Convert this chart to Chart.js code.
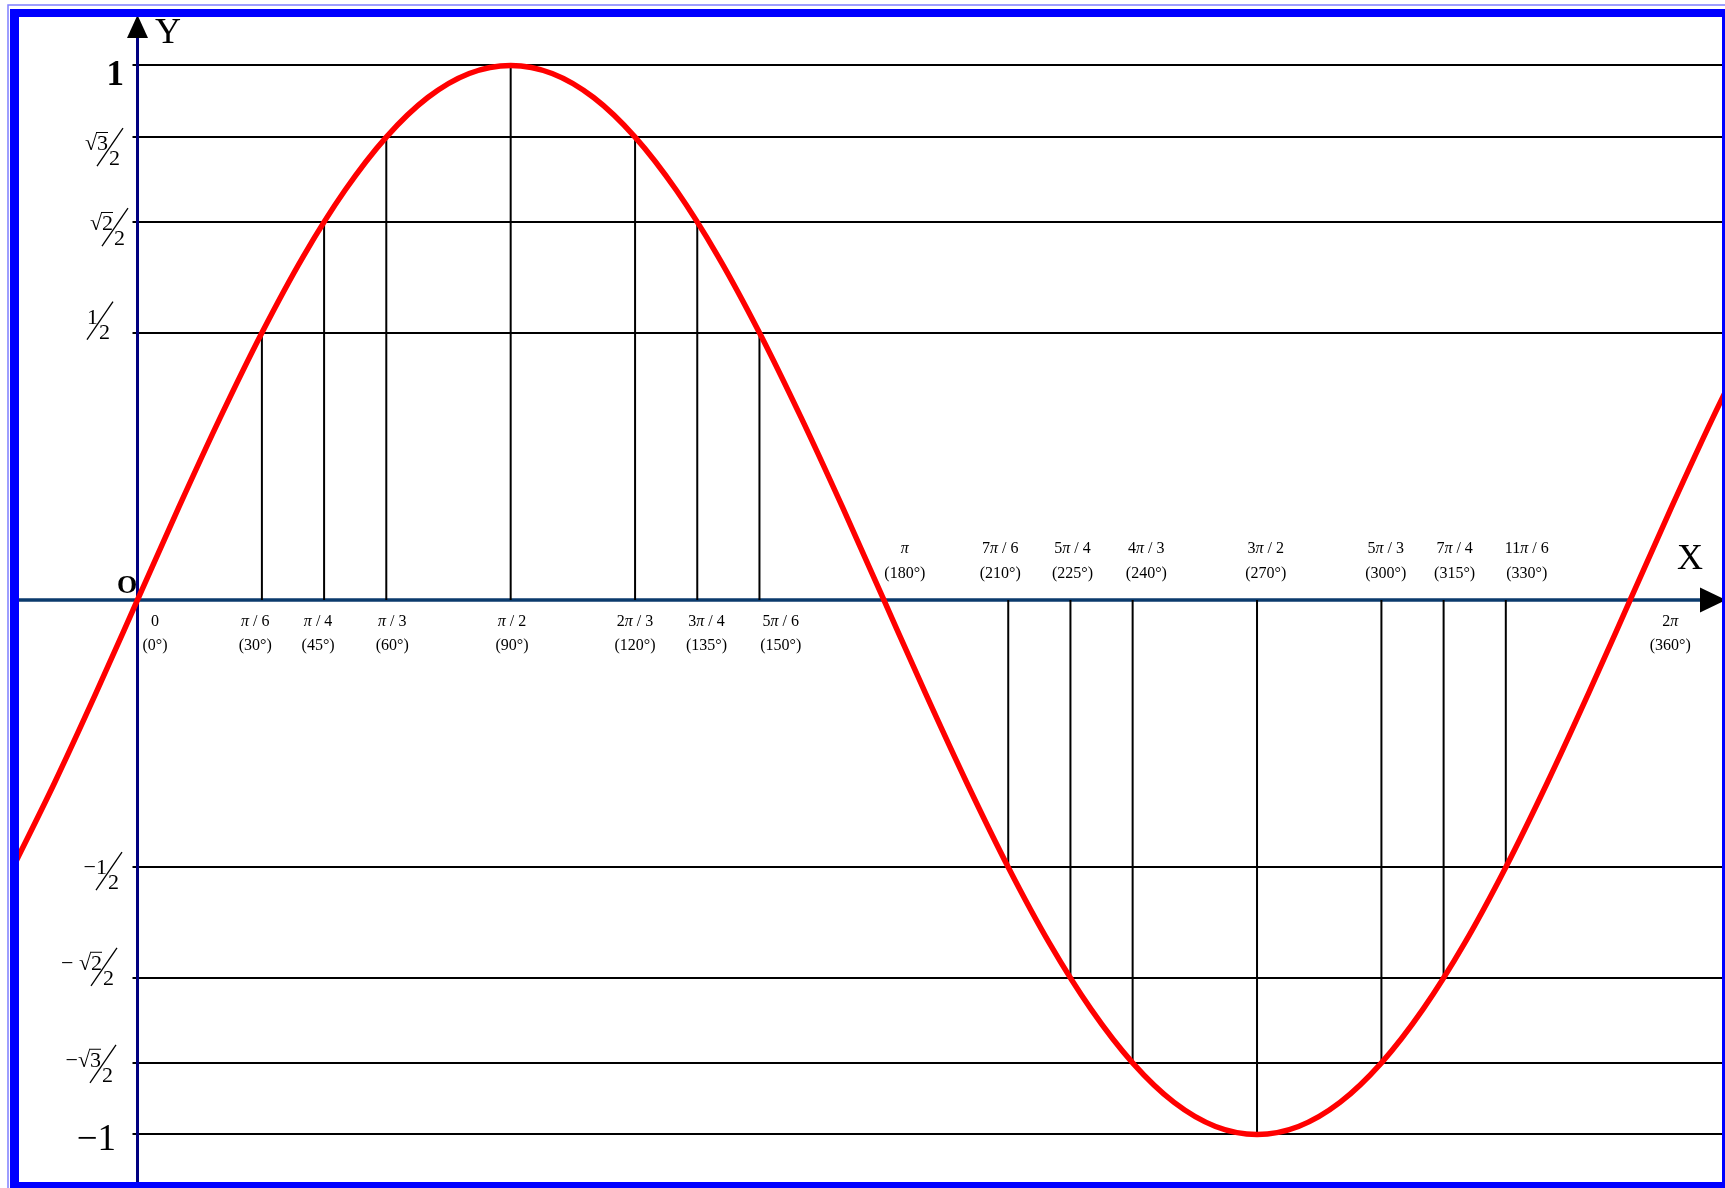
<!DOCTYPE html>
<html><head><meta charset="utf-8">
<script src="https://cdn.jsdelivr.net/npm/chart.js@4/dist/chart.umd.min.js"></script>
<style>html,body{margin:0;padding:0;background:#fff;overflow:hidden}canvas{display:block}</style>
</head><body>
<canvas id="c" width="1725" height="1188"></canvas>
<script>
// ---- data ----
const curveAngles = [-30,-20,-10,0,10,20,30,40,50,60,70,80,90,100,110,120,130,140,150,160,170,180,190,200,210,220,230,240,250,260,270,280,290,300,310,320,330,340,350,360,370,380,390];
const curveValues = [-0.5,-0.342,-0.174,0,0.174,0.342,0.5,0.643,0.766,0.866,0.94,0.985,1,0.985,0.94,0.866,0.766,0.643,0.5,0.342,0.174,0,-0.174,-0.342,-0.5,-0.643,-0.766,-0.866,-0.94,-0.985,-1,-0.985,-0.94,-0.866,-0.766,-0.643,-0.5,-0.342,-0.174,0,0.174,0.342,0.5];
const dropAngles = [30,45,60,90,120,135,150,210,225,240,270,300,315,330];
const dropValues = [0.5,0.707,0.866,1,0.866,0.707,0.5,-0.5,-0.707,-0.866,-1,-0.866,-0.707,-0.5];
const yTickValues = [1,0.866,0.707,0.5,-0.5,-0.707,-0.866,-1];
const yTickLabels = ['1','√3/2','√2/2','1/2','−1/2','− √2/2','−√3/2','−1'];
const xTickAngles = [0,30,45,60,90,120,135,150,180,210,225,240,270,300,315,330,360];
const xTickNames = ['0','π / 6','π / 4','π / 3','π / 2','2π / 3','3π / 4','5π / 6','π','7π / 6','5π / 4','4π / 3','3π / 2','5π / 3','7π / 4','11π / 6','2π'];
const xTickDegrees = ['(0°)','(30°)','(45°)','(60°)','(90°)','(120°)','(135°)','(150°)','(180°)','(210°)','(225°)','(240°)','(270°)','(300°)','(315°)','(330°)','(360°)'];
const axisTitles = {x:'X', y:'Y', origin:'O'};

// ---- styles / layout nudges ----
const xLabelNudge = [17.5,-6.7,-6,6,1.3,0,9.3,21.3,21,-8,2,13.7,8.7,4.3,11,21,40];
const yFracGeom = { // [slash top x, dy of slash top from the line]
  '√3/2':[123,-9], '√2/2':[128,-14], '1/2':[113,-31], '−1/2':[122,-15], '− √2/2':[117,-30], '−√3/2':[116,-18]
};
const SERIF = '"Liberation Serif", "Times New Roman", serif';

function drawRuns(ctx, text, cx, baseline, size){
  const parts = [];
  let buf = '';
  for (const ch of text){
    if (ch === 'π'){ if (buf) parts.push({t:buf,i:false}); buf=''; parts.push({t:'π',i:true}); }
    else buf += ch;
  }
  if (buf) parts.push({t:buf,i:false});
  let total = 0;
  parts.forEach(p=>{ ctx.font = (p.i?'italic ':'') + size + 'px ' + SERIF; p.w = ctx.measureText(p.t).width; total += p.w; });
  let x = cx - total/2;
  ctx.textAlign = 'left';
  parts.forEach(p=>{ ctx.font = (p.i?'italic ':'') + size + 'px ' + SERIF; ctx.fillText(p.t, x, baseline); x += p.w; });
}

function drawRadicalText(ctx, text, xRight, baseline, size){
  ctx.font = size + 'px ' + SERIF;
  ctx.textAlign = 'left';
  const w = ctx.measureText(text).width;
  const x0 = xRight - w;
  ctx.fillText(text, x0, baseline);
  const k = text.indexOf('√');
  if (k >= 0){
    const pre = ctx.measureText(text.slice(0, k+1)).width;
    const x1 = x0 + pre - 1;
    ctx.beginPath();
    ctx.lineWidth = 1;
    ctx.moveTo(x1, baseline - size*0.80);
    ctx.lineTo(x0 + w, baseline - size*0.80);
    ctx.stroke();
  }
}

const sinePlugin = {
  id:'sineDecor',
  beforeDraw(chart){
    const ctx = chart.ctx;
    ctx.save(); ctx.fillStyle='#fff'; ctx.fillRect(0,0,chart.width,chart.height); ctx.restore();
  },
  beforeDatasetsDraw(chart){
    const ctx = chart.ctx, xs = chart.scales.x, ys = chart.scales.y, a = chart.chartArea;
    const x0 = xs.getPixelForValue(0), y0 = ys.getPixelForValue(0);
    ctx.save();
    ctx.strokeStyle = '#000'; ctx.lineWidth = 2;
    yTickValues.forEach(v=>{
      const y = Math.round(ys.getPixelForValue(v));
      ctx.beginPath(); ctx.moveTo(x0 - 5, y); ctx.lineTo(a.right, y); ctx.stroke();
    });
    ctx.strokeStyle = '#000080'; ctx.lineWidth = 3;
    ctx.beginPath(); ctx.moveTo(x0, 36); ctx.lineTo(x0, a.bottom); ctx.stroke();
    ctx.fillStyle = '#000';
    ctx.beginPath(); ctx.moveTo(x0, 15); ctx.lineTo(x0 - 10.5, 38); ctx.lineTo(x0 + 10.5, 38); ctx.closePath(); ctx.fill();
    ctx.strokeStyle = '#0b3a6c'; ctx.lineWidth = 3.5;
    ctx.beginPath(); ctx.moveTo(a.left, y0); ctx.lineTo(1702, y0); ctx.stroke();
    ctx.fillStyle = '#000';
    ctx.beginPath(); ctx.moveTo(1726, y0); ctx.lineTo(1700, y0 - 12.5); ctx.lineTo(1700, y0 + 12.5); ctx.closePath(); ctx.fill();
    ctx.restore();
  },
  afterDatasetsDraw(chart){
    const ctx = chart.ctx, xs = chart.scales.x, ys = chart.scales.y;
    const y0 = ys.getPixelForValue(0);
    ctx.save();
    ctx.fillStyle = '#000'; ctx.strokeStyle = '#000'; ctx.textBaseline = 'alphabetic';
    xTickAngles.forEach((ang,i)=>{
      const cx = xs.getPixelForValue(ang) + xLabelNudge[i];
      const above = ang >= 180 && ang < 360;
      const b1 = above ? y0 - 47 : y0 + 26;
      const b2 = above ? y0 - 22 : y0 + 50;
      drawRuns(ctx, xTickNames[i], cx, b1, 16);
      drawRuns(ctx, xTickDegrees[i], cx, b2, 16);
    });
    yTickValues.forEach((v,i)=>{
      const lab = yTickLabels[i];
      const y = ys.getPixelForValue(v);
      if (lab === '1'){
        ctx.font = 'bold 35px ' + SERIF; ctx.textAlign = 'right';
        ctx.fillText('1', 124, y + 20);
      } else if (lab === '−1'){
        ctx.font = '37px ' + SERIF; ctx.textAlign = 'right';
        ctx.fillText('−1', 116, y + 16);
      } else {
        const [num, den] = lab.split('/');
        const g = yFracGeom[lab];
        const xr = g[0], yt = y + g[1];
        ctx.lineWidth = 1.3;
        ctx.beginPath(); ctx.moveTo(xr, yt); ctx.lineTo(xr - 26, yt + 38); ctx.stroke();
        drawRadicalText(ctx, num, xr - 15, yt + 22, 22);
        ctx.font = '22px ' + SERIF; ctx.textAlign = 'left';
        ctx.fillText(den, xr - 14, yt + 37);
      }
    });
    ctx.textAlign = 'left';
    ctx.font = '36px ' + SERIF; ctx.fillText(axisTitles.y, 155, 43);
    ctx.font = '36px ' + SERIF; ctx.fillText(axisTitles.x, 1677, 569);
    ctx.font = 'bold 26px ' + SERIF; ctx.fillText(axisTitles.origin, 117, 593);
    ctx.restore();
  },
  afterDraw(chart){
    const ctx = chart.ctx, W = chart.width, H = chart.height;
    ctx.save();
    ctx.fillStyle = '#0000ff';
    ctx.fillRect(10, 9, W - 10, 8);
    ctx.fillRect(10, 9, 9, H - 9);
    ctx.fillRect(1722, 9, W - 1722, H-9);
    ctx.fillRect(10, 1182, W - 10, H - 1182);
    ctx.strokeStyle = '#7f7fff'; ctx.lineWidth = 1.5;
    ctx.beginPath(); ctx.moveTo(8, H); ctx.lineTo(8, 5); ctx.lineTo(W, 5); ctx.stroke();
    ctx.restore();
  }
};

const datasets = [{
  data: curveAngles.map((a,i)=>({x:a, y:curveValues[i]})),
  borderColor:'#ff0000', borderWidth:5.5, pointRadius:0, cubicInterpolationMode:'monotone', fill:false
}];
dropAngles.forEach((a,i)=>{
  datasets.push({data:[{x:a,y:0},{x:a,y:dropValues[i]}], borderColor:'#000', borderWidth:2, pointRadius:0, fill:false, tension:0});
});

new Chart(document.getElementById('c'), {
  type:'line',
  data:{datasets},
  options:{
    responsive:false, devicePixelRatio:1, animation:false,
    layout:{padding:{left:19, right:3, top:17, bottom:6}},
    plugins:{legend:{display:false}, tooltip:{enabled:false}},
    scales:{
      x:{type:'linear', min:-28.58, max:382.14, display:false},
      y:{type:'linear', min:-1.0889, max:1.0907, display:false}
    }
  },
  plugins:[sinePlugin]
});
</script>
</body></html>
